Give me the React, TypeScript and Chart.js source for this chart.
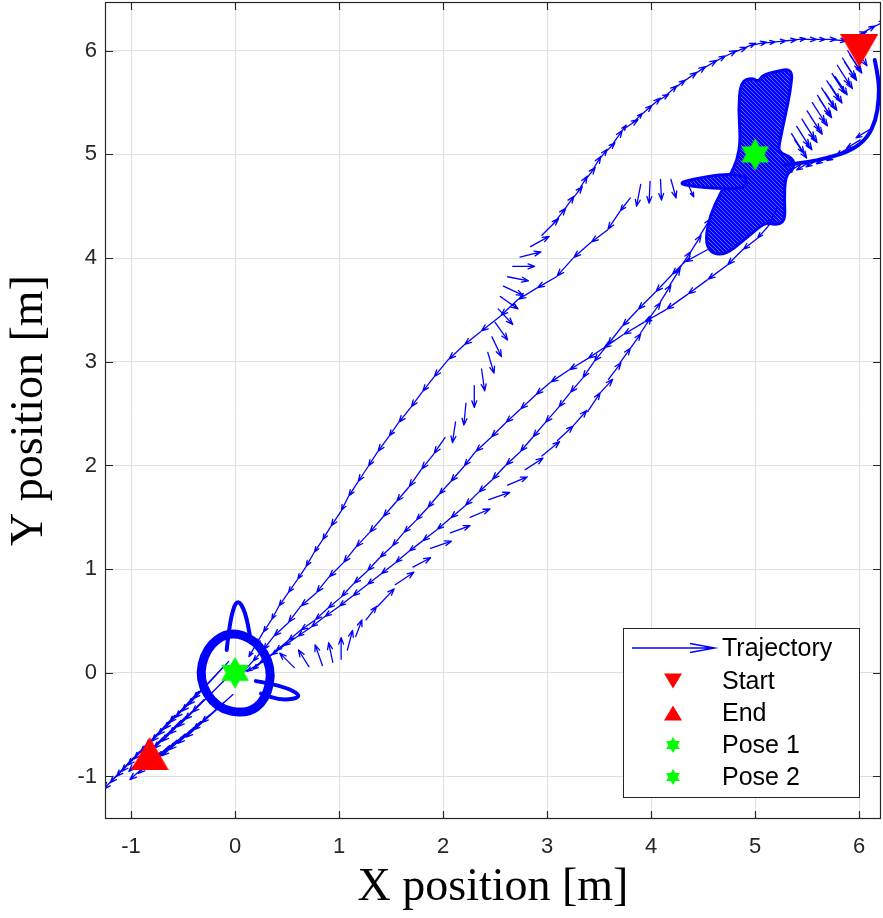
import React, { useEffect, useRef } from 'react';
import { Chart, registerables } from 'chart.js';
Chart.register(...registerables);

type P = [number, number];
type Q = [number, number, number, number];

// axes
const xTicks = [-1, 0, 1, 2, 3, 4, 5, 6];
const yTicks = [-1, 0, 1, 2, 3, 4, 5, 6];
const xLimits = [-1.25, 6.21];
const yLimits = [-1.41, 6.47];

// key poses
const startPose: P = [6, 6];
const endPose: P = [-0.82, -0.78];
const pose1: P = [0, 0];
const pose2: P = [5, 5];
const legendLabels = ['Trajectory', 'Start', 'End', 'Pose 1', 'Pose 2'];

// chains of arrow tails (each arrow points to the next tail)
const chainL: P[] = [[3.80,4.58],[3.70,4.45],[3.58,4.27],[3.42,4.15],[3.25,4.00],[3.09,3.82],[2.90,3.71],[2.72,3.60],[2.55,3.44],[2.36,3.29],[2.20,3.16],[2.05,3.02],[1.91,2.85],[1.80,2.71],[1.69,2.56],[1.57,2.41],[1.48,2.28],[1.37,2.13],[1.28,1.99],[1.18,1.84],[1.09,1.70],[1.02,1.56],[0.92,1.41],[0.84,1.28],[0.76,1.16],[0.68,1.02],[0.60,0.90],[0.51,0.77],[0.42,0.64],[0.35,0.51],[0.27,0.39],[0.20,0.27]];
const chainM: P[] = [[2.02,2.27],[1.91,2.11],[1.79,1.96],[1.67,1.79],[1.55,1.65],[1.42,1.50],[1.29,1.35],[1.16,1.21],[1.04,1.06],[0.90,0.92],[0.78,0.77],[0.63,0.64],[0.51,0.48],[0.37,0.35],[0.27,0.22],[0.17,0.11]];
const chainN1: P[] = [[4.54,4.08],[4.32,3.96],[4.20,3.84],[4.04,3.67],[3.87,3.50],[3.72,3.34],[3.58,3.16],[3.45,3.00],[3.34,2.84],[3.22,2.70],[3.11,2.56],[2.98,2.41],[2.86,2.27],[2.74,2.13],[2.60,2.00],[2.47,1.86],[2.34,1.74],[2.21,1.61],[2.07,1.49],[1.94,1.38],[1.80,1.27],[1.67,1.17],[1.54,1.06],[1.40,0.95],[1.27,0.85],[1.13,0.74],[1.00,0.64],[0.86,0.54],[0.73,0.44],[0.60,0.35],[0.47,0.26],[0.35,0.17],[0.23,0.09]];
const chainN2: P[] = [[5.21,4.48],[5.12,4.30],[5.02,4.19],[4.88,4.08],[4.73,3.93],[4.54,3.79],[4.35,3.65],[4.14,3.50],[3.93,3.38],[3.73,3.26],[3.54,3.13],[3.39,3.03],[3.21,2.92],[3.03,2.80],[2.89,2.68],[2.74,2.54],[2.60,2.41],[2.46,2.27],[2.31,2.13],[2.20,1.99],[2.07,1.84],[1.96,1.72],[1.85,1.59],[1.74,1.47],[1.62,1.35],[1.51,1.22],[1.39,1.11],[1.27,0.98],[1.14,0.86],[1.02,0.73],[0.89,0.62],[0.77,0.51],[0.63,0.41],[0.51,0.31],[0.39,0.21],[0.28,0.12]];
const chainArc: P[] = [[2.95,4.22],[3.05,4.32],[3.13,4.42],[3.21,4.53],[3.29,4.63],[3.35,4.73],[3.42,4.82],[3.48,4.92],[3.54,5.00],[3.61,5.07],[3.68,5.17],[3.73,5.24],[3.82,5.30],[3.88,5.36],[3.96,5.43],[4.04,5.50],[4.12,5.55],[4.20,5.62],[4.28,5.68],[4.38,5.75],[4.47,5.81],[4.57,5.87],[4.66,5.92],[4.76,5.97],[4.86,6.01],[4.95,6.05],[5.05,6.07],[5.14,6.08],[5.24,6.09],[5.34,6.10],[5.43,6.11],[5.53,6.11],[5.62,6.11],[5.72,6.11],[5.82,6.10],[5.91,6.12],[6.01,6.16],[6.10,6.21],[6.20,6.26]];

// explicit quiver arrows [x, y, u, v]
const arcTurn: Q[] = [[2.12,2.42,-0.03,-0.20],[2.22,2.60,-0.02,-0.21],[2.30,2.77,0,-0.21],[2.37,2.93,0.03,-0.21],[2.43,3.09,0.06,-0.20],[2.47,3.24,0.09,-0.19],[2.50,3.38,0.12,-0.17],[2.53,3.51,0.14,-0.15],[2.55,3.63,0.17,-0.12],[2.58,3.73,0.19,-0.09],[2.62,3.82,0.20,-0.04],[2.67,3.92,0.21,0],[2.74,4.01,0.20,0.05],[2.84,4.11,0.18,0.10]];
const dropArrows: Q[] = [[3.90,4.71,-0.04,-0.21],[3.99,4.74,-0.01,-0.21],[4.09,4.76,0.01,-0.20],[4.19,4.76,0.05,-0.18],[4.36,4.70,0.05,-0.11]];
const toPose2: Q[] = [[0.57,0.05,-0.14,0.14],[0.71,0.06,-0.10,0.16],[0.84,0.07,-0.07,0.20],[0.94,0.10,-0.04,0.19],[1.02,0.13,0,0.21],[1.08,0.22,0.05,0.19],[1.16,0.35,0.06,0.16],[1.26,0.51,0.10,0.13],[1.37,0.64,0.16,0.17],[1.54,0.85,0.18,0.12],[1.71,1.02,0.17,0.09],[1.88,1.20,0.20,0.07],[2.07,1.35,0.19,0.07],[2.26,1.50,0.19,0.08],[2.44,1.67,0.20,0.07],[2.62,1.81,0.19,0.08],[2.79,1.96,0.17,0.11],[2.95,2.09,0.17,0.14],[3.10,2.24,0.15,0.14],[3.24,2.37,0.14,0.16],[3.39,2.52,0.12,0.18],[3.51,2.70,0.12,0.13],[3.59,2.83,0.12,0.16],[3.70,2.99,0.10,0.14],[3.80,3.13,0.10,0.14],[3.90,3.28,0.10,0.15],[3.99,3.43,0.10,0.14],[4.09,3.58,0.10,0.16],[4.18,3.74,0.10,0.16],[4.28,3.91,0.10,0.15],[4.38,4.06,0.10,0.16],[4.47,4.22,0.10,0.16]];
const startFan: Q[] = [[5.38,5.14,0.115,-0.175],[5.43,5.22,0.115,-0.175],[5.48,5.29,0.115,-0.175],[5.53,5.37,0.115,-0.175],[5.58,5.45,0.115,-0.175],[5.62,5.53,0.115,-0.175],[5.67,5.60,0.115,-0.175],[5.72,5.67,0.115,-0.175],[5.77,5.75,0.115,-0.175],[5.82,5.81,0.115,-0.175],[5.86,5.89,0.115,-0.175],[5.91,5.96,0.115,-0.175],[5.96,6.03,0.115,-0.175],[5.35,5.20,0.12,-0.19],[5.40,5.27,0.12,-0.19],[5.45,5.34,0.12,-0.19],[5.50,5.42,0.12,-0.19],[5.55,5.50,0.12,-0.19],[5.60,5.57,0.12,-0.19],[5.64,5.64,0.12,-0.19],[5.69,5.71,0.12,-0.19],[5.74,5.78,0.12,-0.19],[5.79,5.86,0.12,-0.19],[5.84,5.93,0.12,-0.19],[5.89,6.00,0.12,-0.19]];
const loopHatch: Q[] = [[6.10,5.24,-0.13,-0.08],[6.01,5.14,-0.13,-0.08],[5.91,5.07,-0.13,-0.08],[5.82,5.02,-0.13,-0.08],[5.72,4.99,-0.13,-0.08],[5.62,4.96,-0.13,-0.08],[5.53,4.93,-0.13,-0.08],[5.43,4.90,-0.13,-0.08]];
const endFan: Q[] = [[-0.06,0.11,-0.28,-0.30],[-0.12,0.05,-0.28,-0.30],[-0.17,-0.01,-0.28,-0.30],[-0.23,-0.07,-0.28,-0.30],[-0.29,-0.13,-0.28,-0.30],[-0.35,-0.18,-0.28,-0.30],[-0.40,-0.24,-0.28,-0.30],[-0.46,-0.30,-0.28,-0.30],[-0.52,-0.36,-0.28,-0.30],[-0.58,-0.41,-0.28,-0.30],[-0.63,-0.47,-0.28,-0.30],[-0.69,-0.53,-0.28,-0.30],[-0.75,-0.59,-0.28,-0.30],[-0.81,-0.65,-0.28,-0.30],[-0.86,-0.70,-0.28,-0.30],[-0.92,-0.76,-0.28,-0.30],[-0.98,-0.82,-0.28,-0.30],[-0.02,-0.21,-0.30,-0.27],[-0.10,-0.28,-0.30,-0.27],[-0.17,-0.35,-0.30,-0.27],[-0.25,-0.41,-0.30,-0.27],[-0.33,-0.47,-0.30,-0.27],[-0.40,-0.53,-0.30,-0.27],[-0.48,-0.59,-0.30,-0.27],[-0.56,-0.65,-0.30,-0.27],[-0.63,-0.70,-0.30,-0.27],[-0.71,-0.76,-0.30,-0.27],[-0.08,-0.05,-0.33,-0.33],[-0.15,-0.12,-0.33,-0.33],[-0.22,-0.19,-0.33,-0.33],[-0.30,-0.26,-0.33,-0.33],[-0.37,-0.33,-0.33,-0.33],[-0.45,-0.40,-0.33,-0.33],[-0.53,-0.47,-0.33,-0.33],[-0.61,-0.55,-0.33,-0.33],[-0.69,-0.62,-0.33,-0.33]];

// dense loops (traced outlines)
const ringPose1: P[] = [[-0.06,0.40],[0.20,0.32],[0.36,0.05],[0.30,-0.26],[0.11,-0.40],[-0.18,-0.34],[-0.35,-0.07],[-0.28,0.24]];
const petalUp: P[] = [[-0.08,0.22],[-0.05,0.51],[0.02,0.72],[0.10,0.59],[0.15,0.32]];
const petalRight: P[] = [[0.20,-0.08],[0.45,-0.12],[0.66,-0.23],[0.45,-0.27],[0.25,-0.20]];
const loopRight: P[] = [[6.15,5.91],[6.19,5.72],[6.19,5.53],[6.16,5.33],[6.08,5.16],[5.93,5.04],[5.72,4.97],[5.48,4.92],[5.29,4.90]];
const blobPose2: P[] = [[4.86,5.70],[4.97,5.74],[5.03,5.70],[5.07,5.76],[5.19,5.80],[5.36,5.83],[5.34,5.62],[5.29,5.38],[5.24,5.14],[5.22,5.02],[5.36,4.97],[5.38,4.87],[5.29,4.80],[5.28,4.56],[5.29,4.35],[5.19,4.32],[5.10,4.35],[4.90,4.18],[4.71,4.03],[4.57,4.05],[4.52,4.18],[4.57,4.42],[4.66,4.61],[4.76,4.80],[4.83,4.95],[4.86,5.14],[4.84,5.43]];
const spikePose2: P[] = [[4.20,4.73],[4.88,4.84],[4.95,4.66],[4.47,4.68]];

const BLUE = '#0000ff';
const RED = '#ff0000';
const GREEN = '#00ff00';
const AX = '#262626';

function arrow(ctx: CanvasRenderingContext2D, x0: number, y0: number, x1: number, y1: number, hmax = 7) {
  const dx = x1 - x0, dy = y1 - y0;
  const L = Math.hypot(dx, dy);
  if (L < 0.5) return;
  const h = Math.min(hmax, L * 0.38);
  const a = Math.atan2(dy, dx);
  const w = 0.36;
  ctx.moveTo(x0, y0); ctx.lineTo(x1, y1);
  ctx.moveTo(x1 - h * Math.cos(a - w), y1 - h * Math.sin(a - w));
  ctx.lineTo(x1, y1);
  ctx.lineTo(x1 - h * Math.cos(a + w), y1 - h * Math.sin(a + w));
}

function smoothPath(ctx: CanvasRenderingContext2D, pts: number[][], closed: boolean) {
  const n = pts.length;
  if (closed) {
    const m0 = [(pts[n - 1][0] + pts[0][0]) / 2, (pts[n - 1][1] + pts[0][1]) / 2];
    ctx.moveTo(m0[0], m0[1]);
    for (let i = 0; i < n; i++) {
      const p = pts[i], q = pts[(i + 1) % n];
      ctx.quadraticCurveTo(p[0], p[1], (p[0] + q[0]) / 2, (p[1] + q[1]) / 2);
    }
  } else {
    ctx.moveTo(pts[0][0], pts[0][1]);
    for (let i = 1; i < n - 1; i++) {
      const p = pts[i], q = pts[i + 1];
      ctx.quadraticCurveTo(p[0], p[1], (p[0] + q[0]) / 2, (p[1] + q[1]) / 2);
    }
    ctx.lineTo(pts[n - 1][0], pts[n - 1][1]);
  }
}

function hexagram(ctx: CanvasRenderingContext2D, cx: number, cy: number, R: number) {
  for (const off of [-90, 90]) {
    ctx.beginPath();
    for (let k = 0; k < 3; k++) {
      const a = ((off + k * 120) * Math.PI) / 180;
      const X = cx + R * Math.cos(a), Y = cy + R * Math.sin(a);
      k === 0 ? ctx.moveTo(X, Y) : ctx.lineTo(X, Y);
    }
    ctx.closePath();
    ctx.fill();
  }
}

function triangle(ctx: CanvasRenderingContext2D, cx: number, cy: number, w: number, h: number, down: boolean) {
  ctx.beginPath();
  if (down) {
    ctx.moveTo(cx - w / 2, cy - h / 2); ctx.lineTo(cx + w / 2, cy - h / 2); ctx.lineTo(cx, cy + h / 2);
  } else {
    ctx.moveTo(cx - w / 2, cy + h / 2); ctx.lineTo(cx + w / 2, cy + h / 2); ctx.lineTo(cx, cy - h / 2);
  }
  ctx.closePath();
  ctx.fill();
}

function markerCanvas(kind: 'down' | 'up' | 'hex'): HTMLCanvasElement {
  const c = document.createElement('canvas');
  const w = kind === 'hex' ? 30 : 38, h = kind === 'hex' ? 34 : 33;
  c.width = w; c.height = h;
  const g = c.getContext('2d')!;
  if (kind === 'hex') { g.fillStyle = GREEN; hexagram(g, w / 2, h / 2, 16); }
  else { g.fillStyle = RED; triangle(g, w / 2, h / 2, 38, 33, kind === 'down'); }
  return c;
}

function hatchPattern(ctx: CanvasRenderingContext2D) {
  const c = document.createElement('canvas');
  c.width = 4; c.height = 4;
  const g = c.getContext('2d')!;
  g.fillStyle = BLUE; g.fillRect(0, 0, 4, 4);
  g.fillStyle = 'rgba(255,255,255,0.4)';
  g.fillRect(0, 0, 1, 1); g.fillRect(1, 1, 1, 1); g.fillRect(2, 2, 1, 1); g.fillRect(3, 3, 1, 1);
  return ctx.createPattern(c, 'repeat')!;
}

const drawPlugin = {
  id: 'quiverDraw',
  beforeDatasetsDraw(chart: any) {
    const { ctx, chartArea: a, scales } = chart;
    const xs = (v: number) => scales.x.getPixelForValue(v);
    const ys = (v: number) => scales.y.getPixelForValue(v);
    const toPx = (pts: P[]) => pts.map((p) => [xs(p[0]), ys(p[1])]);
    ctx.save();
    ctx.beginPath(); ctx.rect(a.left, a.top, a.right - a.left, a.bottom - a.top); ctx.clip();
    ctx.strokeStyle = BLUE; ctx.lineCap = 'round'; ctx.lineJoin = 'round';

    // dense blobs
    ctx.fillStyle = hatchPattern(ctx);
    for (const poly of [blobPose2, spikePose2]) {
      ctx.beginPath(); smoothPath(ctx, toPx(poly), true); ctx.fill();
      ctx.lineWidth = 3; ctx.stroke();
    }
    ctx.lineWidth = 9; ctx.beginPath(); smoothPath(ctx, toPx(ringPose1), true); ctx.stroke();
    ctx.lineWidth = 4;
    ctx.beginPath(); smoothPath(ctx, toPx(petalUp), false); ctx.stroke();
    ctx.beginPath(); smoothPath(ctx, toPx(petalRight), false); ctx.stroke();
    ctx.beginPath(); smoothPath(ctx, toPx(loopRight), false); ctx.stroke();

    // arrows
    ctx.lineWidth = 1.3;
    ctx.beginPath();
    const chains: [P[], number][] = [[chainL, 0.95], [chainM, 0.95], [chainN1, 0.95], [chainN2, 0.95], [chainArc, 1.6]];
    for (const [pts, f] of chains) {
      for (let i = 0; i < pts.length; i++) {
        const x0 = xs(pts[i][0]), y0 = ys(pts[i][1]);
        let dx, dy;
        if (i < pts.length - 1) { dx = xs(pts[i + 1][0]) - x0; dy = ys(pts[i + 1][1]) - y0; }
        else { dx = x0 - xs(pts[i - 1][0]); dy = y0 - ys(pts[i - 1][1]); }
        arrow(ctx, x0, y0, x0 + f * dx, y0 + f * dy);
      }
    }
    for (const set of [arcTurn, dropArrows, toPose2, startFan, loopHatch, endFan]) {
      for (const [x, y, u, v] of set) arrow(ctx, xs(x), ys(y), xs(x + u), ys(y + v));
    }
    ctx.stroke();
    ctx.restore();
  },
  afterDraw(chart: any) {
    const { ctx, chartArea: a, scales } = chart;
    ctx.save();
    // box with inward ticks
    ctx.strokeStyle = AX; ctx.lineWidth = 1.2;
    ctx.strokeRect(a.left + 0.5, a.top + 0.5, a.right - a.left - 1, a.bottom - a.top - 1);
    ctx.beginPath();
    for (const t of xTicks) {
      const X = Math.round(scales.x.getPixelForValue(t)) + 0.5;
      ctx.moveTo(X, a.bottom); ctx.lineTo(X, a.bottom - 8);
      ctx.moveTo(X, a.top); ctx.lineTo(X, a.top + 8);
    }
    for (const t of yTicks) {
      const Y = Math.round(scales.y.getPixelForValue(t)) + 0.5;
      ctx.moveTo(a.left, Y); ctx.lineTo(a.left + 8, Y);
      ctx.moveTo(a.right, Y); ctx.lineTo(a.right - 8, Y);
    }
    ctx.stroke();

    // legend
    const L = 623, T = 628, R = 859, B = 797;
    ctx.fillStyle = '#ffffff'; ctx.fillRect(L, T, R - L, B - T);
    ctx.strokeStyle = AX; ctx.lineWidth = 1; ctx.strokeRect(L + 0.5, T + 0.5, R - L, B - T);
    const rows = [648, 681, 713, 745, 777];
    ctx.font = '25px "Liberation Sans", Arial, sans-serif';
    ctx.fillStyle = '#000'; ctx.textBaseline = 'middle'; ctx.textAlign = 'left';
    legendLabels.forEach((s, i) => ctx.fillText(s, 722, rows[i] + 1));
    ctx.strokeStyle = BLUE; ctx.lineWidth = 1.3; ctx.beginPath();
    ctx.moveTo(632, rows[0]); ctx.lineTo(715, rows[0]);
    ctx.moveTo(690, rows[0] - 4.5); ctx.lineTo(715, rows[0]); ctx.lineTo(690, rows[0] + 4.5);
    ctx.stroke();
    ctx.fillStyle = RED;
    triangle(ctx, 673, rows[1], 18, 15, true);
    triangle(ctx, 673, rows[2], 18, 15, false);
    ctx.fillStyle = GREEN;
    hexagram(ctx, 673, rows[3], 8);
    hexagram(ctx, 673, rows[4], 8);
    ctx.restore();
  },
};

const zeroPad = (s: any) => { s.paddingLeft = 0; s.paddingRight = 0; s.paddingTop = 0; s.paddingBottom = 0; };

export default function App() {
  const ref = useRef<HTMLCanvasElement>(null);
  useEffect(() => {
    if (!ref.current) return;
    const mk = (p: P, img: HTMLCanvasElement) => ({
      data: [{ x: p[0], y: p[1] }], pointStyle: img as any, pointRadius: 18, showLine: false,
    });
    const chart = new Chart(ref.current, {
      type: 'scatter',
      data: {
        datasets: [
          mk(startPose, markerCanvas('down')),
          mk(endPose, markerCanvas('up')),
          mk(pose1, markerCanvas('hex')),
          mk(pose2, markerCanvas('hex')),
        ],
      },
      options: {
        animation: false,
        responsive: false,
        layout: { autoPadding: false, padding: { top: 2, right: 2, left: 0, bottom: 0 } },
        plugins: { legend: { display: false }, tooltip: { enabled: false } },
        scales: {
          x: {
            type: 'linear', min: xLimits[0], max: xLimits[1],
            afterBuildTicks: (s: any) => { s.ticks = xTicks.map((v) => ({ value: v })); },
            afterFit: (s: any) => { s.height = 99; zeroPad(s); },
            grid: { color: '#dfdfdf', drawTicks: false, lineWidth: 1 },
            border: { display: false },
            ticks: { font: { family: 'Liberation Sans', size: 22 }, color: AX, padding: 15, maxRotation: 0, autoSkip: false },
            title: { display: true, text: 'X position [m]', font: { family: 'Liberation Serif', size: 46 }, color: '#000', padding: { top: 0, bottom: 2 } },
          },
          y: {
            type: 'linear', min: yLimits[0], max: yLimits[1],
            afterBuildTicks: (s: any) => { s.ticks = yTicks.map((v) => ({ value: v })); },
            afterFit: (s: any) => { s.width = 105; zeroPad(s); },
            grid: { color: '#dfdfdf', drawTicks: false, lineWidth: 1 },
            border: { display: false },
            ticks: { font: { family: 'Liberation Sans', size: 22 }, color: AX, padding: 8, autoSkip: false },
            title: { display: true, text: 'Y position [m]', font: { family: 'Liberation Serif', size: 46 }, color: '#000', padding: { top: 2, bottom: 0 } },
          },
        },
      },
      plugins: [drawPlugin],
    });
    return () => chart.destroy();
  }, []);
  return (
    <div style={{ position: 'fixed', left: 0, top: 0, width: 883, height: 918, background: '#fff' }}>
      <canvas ref={ref} width={883} height={918} style={{ display: 'block' }} />
    </div>
  );
}
